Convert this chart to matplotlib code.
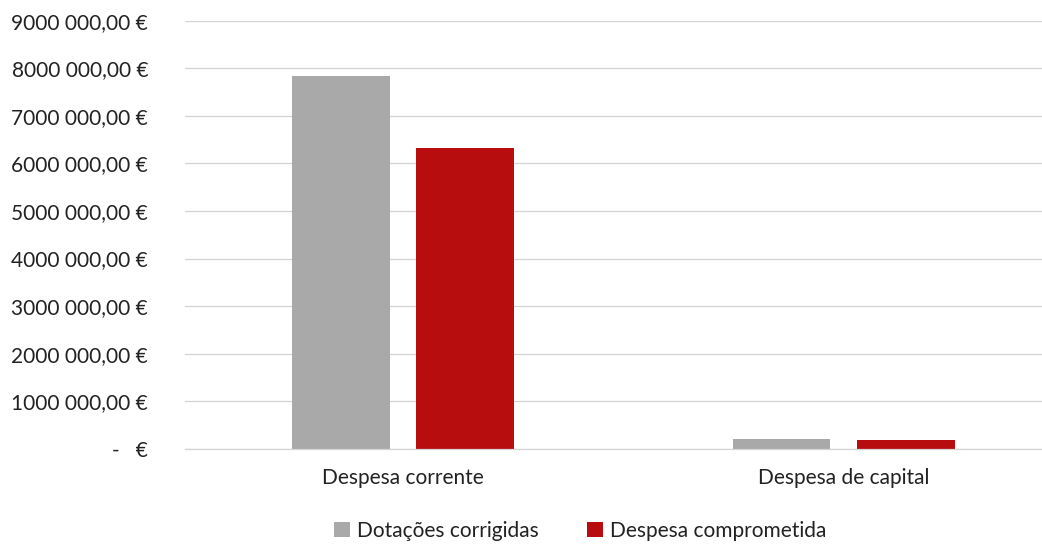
import matplotlib
matplotlib.use('Agg')
import matplotlib.pyplot as plt
import numpy as np
from matplotlib.patches import Patch

# ── Data ──
categories = ['Despesa corrente', 'Despesa de capital']
dotacoes = [7830000, 200000]
comprometida = [6320000, 185000]
y_ticks = [0, 1000000, 2000000, 3000000, 4000000, 5000000, 6000000, 7000000, 8000000, 9000000]
y_labels = ['-   €', '1000 000,00 €', '2000 000,00 €', '3000 000,00 €', '4000 000,00 €',
            '5000 000,00 €', '6000 000,00 €', '7000 000,00 €', '8000 000,00 €', '9000 000,00 €']
series_names = ['Dotações corrigidas', 'Despesa comprometida']

plt.rcParams['font.family'] = ['Lato', 'DejaVu Sans']

color_gray = '#a9a9a9'
color_red = '#b80d0f'
text_color = '#222222'
fs = 15

fig = plt.figure(figsize=(10.42, 5.46), dpi=100)
ax = fig.add_axes([0.1775, 0.178, 0.8225, 0.784])

x = np.arange(len(categories))
w = 0.222
ax.bar(x - 0.141, dotacoes, w, color=color_gray, zorder=2)
ax.bar(x + 0.141, comprometida, w, color=color_red, zorder=2)

ax.set_xlim(-0.494, 1.45)
ax.set_ylim(0, 9000000)
ax.set_yticks(y_ticks)
ax.set_yticklabels(y_labels, fontsize=fs, color=text_color)
ax.set_xticks(x)
ax.set_xticklabels(categories, fontsize=fs, color=text_color)
ax.tick_params(axis='both', length=0)
ax.tick_params(axis='y', pad=26.5)
ax.tick_params(axis='x', pad=14)

ax.grid(axis='y', color='#d4d4d4', linewidth=0.9, zorder=0)
for side in ['top', 'right', 'left']:
    ax.spines[side].set_visible(False)
ax.spines['bottom'].set_color('#d4d4d4')
ax.spines['bottom'].set_linewidth(0.9)

handles = [Patch(facecolor=color_gray, label=series_names[0]),
           Patch(facecolor=color_red, label=series_names[1])]
fig.legend(handles=handles, loc='center', bbox_to_anchor=(0.557, 0.028), ncol=2,
           frameon=False, fontsize=fs, handlelength=0.75, handleheight=0.75,
           handletextpad=0.35, columnspacing=2.3, labelcolor=text_color)

fig.savefig('out.png', dpi=100, facecolor='white')
